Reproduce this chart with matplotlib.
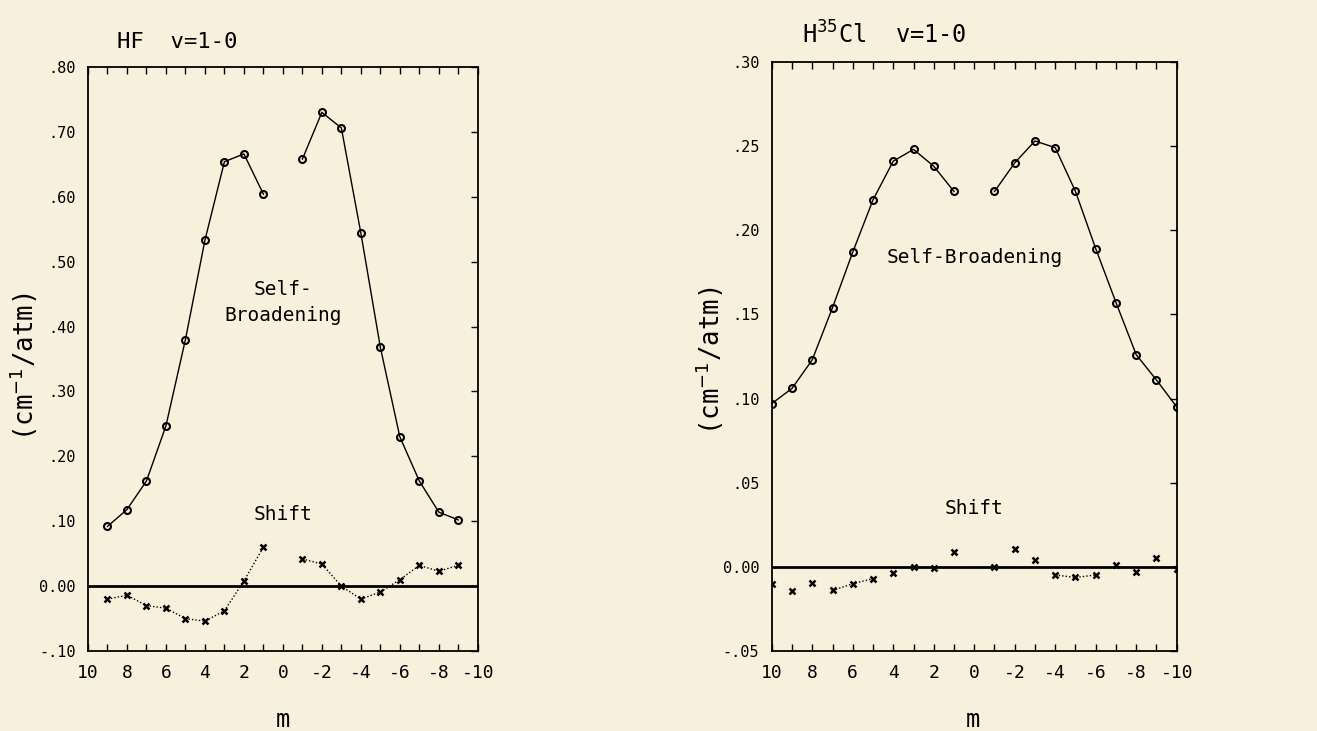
import numpy as np
import matplotlib
matplotlib.use('Agg')
import matplotlib.pyplot as plt
from matplotlib.ticker import FixedLocator, MultipleLocator

plt.rcParams['font.family'] = ['DejaVu Sans Mono']
plt.rcParams['mathtext.fontset'] = 'dejavusans'

# HF v=1-0, m = 9..1 and -1..-9
hf_m_r = [9, 8, 7, 6, 5, 4, 3, 2, 1]
hf_m_p = [-1, -2, -3, -4, -5, -6, -7, -8, -9]
hf_self_r = [0.092, 0.118, 0.162, 0.247, 0.380, 0.533, 0.654, 0.666, 0.604]
hf_self_p = [0.658, 0.730, 0.706, 0.544, 0.368, 0.230, 0.162, 0.114, 0.102]
hf_shift_r = [-0.020, -0.014, -0.030, -0.034, -0.050, -0.054, -0.038, 0.008, 0.060]
hf_shift_p = [0.042, 0.034, 0.000, -0.020, -0.009, 0.010, 0.032, 0.023, 0.032]

# H35Cl v=1-0, m = 10..1 and -1..-10
hcl_m_r = [10, 9, 8, 7, 6, 5, 4, 3, 2, 1]
hcl_m_p = [-1, -2, -3, -4, -5, -6, -7, -8, -9, -10]
hcl_self_r = [0.097, 0.106, 0.123, 0.154, 0.187, 0.218, 0.241, 0.248, 0.238, 0.223]
hcl_self_p = [0.223, 0.240, 0.253, 0.249, 0.223, 0.189, 0.157, 0.126, 0.111, 0.095]
hcl_shift_r = [-0.010, -0.0145, -0.0095, -0.014, -0.010, -0.007, -0.0034, 0.000, -0.0006, 0.009]
hcl_shift_p = [0.000, 0.0105, 0.004, -0.0048, -0.0063, -0.0048, 0.001, -0.003, 0.005, -0.001]

hf_yticks = [-0.10, 0.00, 0.10, 0.20, 0.30, 0.40, 0.50, 0.60, 0.70, 0.80]
hf_ylabels = ['-.10', '0.00', '.10', '.20', '.30', '.40', '.50', '.60', '.70', '.80']
hcl_yticks = [-0.05, 0.00, 0.05, 0.10, 0.15, 0.20, 0.25, 0.30]
hcl_ylabels = ['-.05', '0.00', '.05', '.10', '.15', '.20', '.25', '.30']
xticks = [10, 8, 6, 4, 2, 0, -2, -4, -6, -8, -10]

bg = '#f6f0dc'
fig = plt.figure(figsize=(13.17, 7.31), dpi=100, facecolor=bg)
ax1 = fig.add_axes([0.0668, 0.1094, 0.296, 0.799])
ax2 = fig.add_axes([0.586, 0.1094, 0.3075, 0.806])

circ = dict(marker='o', ms=5, mfc='none', mec='black', mew=1.5, color='black', lw=1.0)
cross = dict(marker='x', ms=5, mew=1.8, color='black', lw=1.0, ls=(0, (1, 1.5)))


def style(ax, yticks, ylabels, ylim):
    ax.set_facecolor(bg)
    ax.set_xlim(10, -10)
    ax.set_ylim(*ylim)
    ax.axhline(0, color='black', lw=2.0, zorder=1)
    ax.xaxis.set_major_locator(FixedLocator(xticks))
    ax.xaxis.set_minor_locator(MultipleLocator(1))
    ax.set_xticklabels([str(t) for t in xticks])
    ax.yaxis.set_major_locator(FixedLocator(yticks))
    ax.set_yticklabels(ylabels)
    ax.tick_params(axis='x', which='both', direction='in', top=True, bottom=True,
                   length=5, width=1, labelsize=13, pad=9)
    ax.tick_params(axis='y', direction='in', left=False, right=True,
                   length=5, width=1, labelsize=11, pad=9)
    for s in ax.spines.values():
        s.set_linewidth(1.3)


style(ax1, hf_yticks, hf_ylabels, (-0.10, 0.80))
ax1.plot(hf_m_r, hf_self_r, **circ)
ax1.plot(hf_m_p, hf_self_p, **circ)
ax1.plot(hf_m_r, hf_shift_r, **cross)
ax1.plot(hf_m_p, hf_shift_p, **cross)
ax1.text(0, 0.437, 'Self-\nBroadening', ha='center', va='center', fontsize=14, linespacing=1.5)
ax1.text(0, 0.111, 'Shift', ha='center', va='center', fontsize=14)
fig.text(0.0888, 0.935, 'HF  v=1-0', fontsize=16, ha='left', va='baseline')
fig.text(0.0182, 0.498, '(cm$^{-1}$/atm)', fontsize=18.5, rotation=90, ha='center', va='center')
fig.text(0.2149, 0.015, 'm', fontsize=17, ha='center', va='center')

style(ax2, hcl_yticks, hcl_ylabels, (-0.05, 0.30))
ax2.plot(hcl_m_r, hcl_self_r, **circ)
ax2.plot(hcl_m_p, hcl_self_p, **circ)
# shifts are mostly plotted as unconnected points
ax2.plot(hcl_m_r, hcl_shift_r, marker='x', ms=5, mew=1.8, color='black', ls='none')
ax2.plot(hcl_m_p, hcl_shift_p, marker='x', ms=5, mew=1.8, color='black', ls='none')
ax2.plot(hcl_m_r[3:6], hcl_shift_r[3:6], color='black', lw=1.0, ls=(0, (1, 1.5)))
ax2.plot(hcl_m_p[3:6], hcl_shift_p[3:6], color='black', lw=1.0, ls=(0, (1, 1.5)))
ax2.text(0, 0.184, 'Self-Broadening', ha='center', va='center', fontsize=14)
ax2.text(0, 0.0345, 'Shift', ha='center', va='center', fontsize=14)
fig.text(0.609, 0.94, 'H$^{35}$Cl  v=1-0', fontsize=17, ha='left', va='baseline')
fig.text(0.539, 0.506, '(cm$^{-1}$/atm)', fontsize=18.5, rotation=90, ha='center', va='center')
fig.text(0.7388, 0.015, 'm', fontsize=17, ha='center', va='center')

fig.savefig('out.png', dpi=100, facecolor=bg)
